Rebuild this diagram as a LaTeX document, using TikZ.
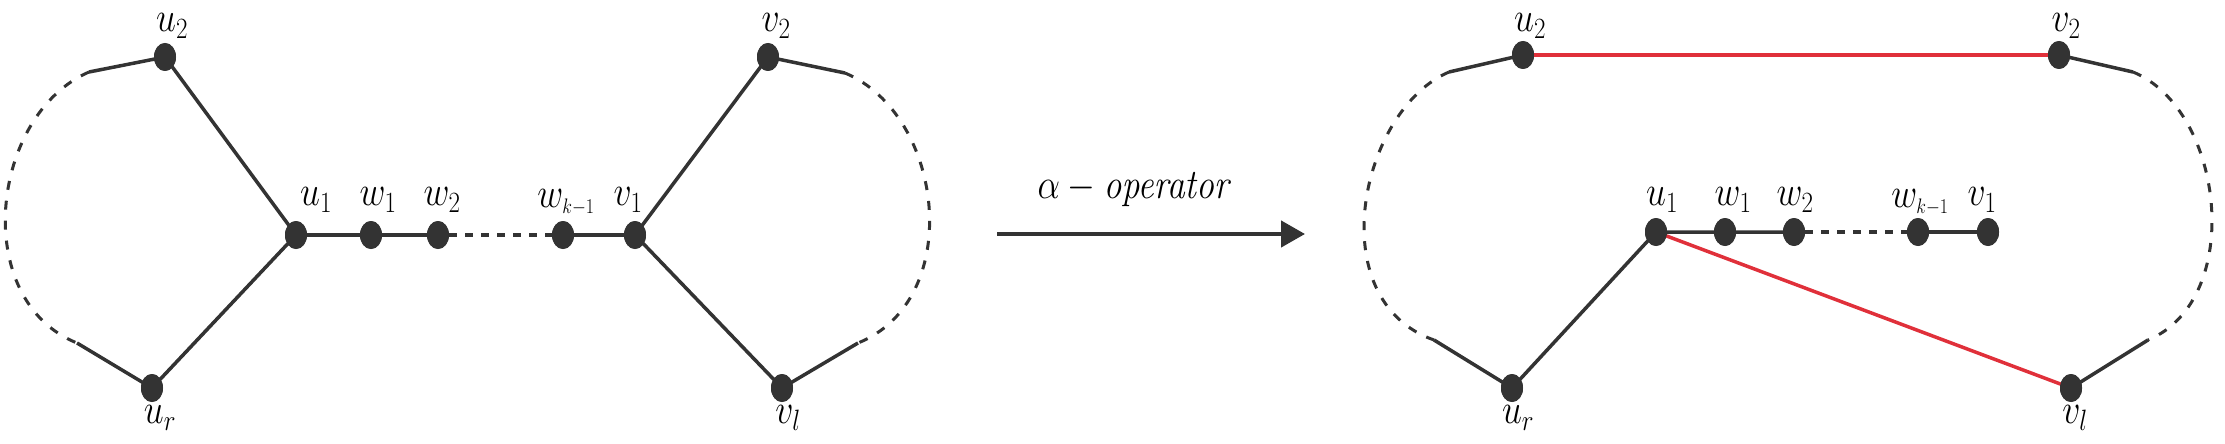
\documentclass[tikz,border=0pt]{standalone}
\usepackage{fix-cm}
\usetikzlibrary{arrows.meta,shapes.geometric}
\definecolor{dk}{HTML}{333333}
\definecolor{rd}{HTML}{E0303A}
\begin{document}
\begin{tikzpicture}[x=1pt,y=-1pt,
  vtx/.style={ellipse,fill=dk,inner sep=0pt,minimum width=22pt,minimum height=28pt},
  lab/.style={font=\fontsize{42}{50}\selectfont,text=black,inner sep=0pt,xscale=0.85},
  edge/.style={draw=dk,line width=3.5pt},
  redge/.style={draw=rd,line width=3.5pt},
  dsh/.style={draw=dk,line width=3pt,dash pattern=on 9pt off 11pt},
  dot/.style={draw=dk,line width=4pt,dash pattern=on 8pt off 8pt}]
\useasboundingbox (0,0) rectangle (2225,444);
% left graph
\node[vtx] (Lu2) at (165,57) {};
\node[vtx] (Lu1) at (296,235) {};
\node[vtx] (Lw1) at (371,235) {};
\node[vtx] (Lw2) at (438,235) {};
\node[vtx] (Lwk) at (563,235) {};
\node[vtx] (Lv1) at (635,235) {};
\node[vtx] (Lv2) at (768,57) {};
\node[vtx] (Lur) at (152,388) {};
\node[vtx] (Lvl) at (782,388) {};
\coordinate (La) at (89,72); \coordinate (Lb) at (77,343);
\coordinate (Lc) at (845,73); \coordinate (Ld) at (858,343);
\draw[edge] (Lu2.center) -- (Lu1.center) -- (Lur.center);
\draw[edge] (Lu1.center) -- (Lw1.center) -- (Lw2.center);
\draw[edge] (Lwk.center) -- (Lv1.center);
\draw[edge] (Lv2.center) -- (Lv1.center) -- (Lvl.center);
\draw[dot] (Lw2) -- (Lwk);
\draw[edge] (Lu2.center) -- (La);
\draw[edge] (Lur.center) -- (Lb);
\draw[edge] (Lv2.center) -- (Lc);
\draw[edge] (Lvl.center) -- (Ld);
\draw[dsh] (La) .. controls (-10,115) and (-30,300) .. (Lb);
\draw[dsh] (Lc) .. controls (945,115) and (965,300) .. (Ld);
\foreach \n in {Lu2,Lu1,Lw1,Lw2,Lwk,Lv1,Lv2,Lur,Lvl} \node[vtx] at (\n) {};
\node[lab] at (172,26) {$u_2$};
\node[lab] at (776,26) {$v_2$};
\node[lab] at (316,200) {$u_1$};
\node[lab] at (378,200) {$w_1$};
\node[lab] at (442,200) {$w_2$};
\node[lab] at (566,202) {$w_{\scriptscriptstyle k-1}$};
\node[lab] at (628,200) {$v_1$};
\node[lab] at (160,418) {$u_r$};
\node[lab] at (788,418) {$v_l$};
% arrow
\coordinate (A1) at (997,234); \coordinate (A2) at (1305,234);
\draw[draw=dk,line width=4.5pt,-{Triangle[length=24pt,width=26pt]}] (A1) -- (A2);
\node[lab] (op) at (1135,190) {$\alpha - \mathit{operator}$};
% right graph
\node[vtx] (Ru2) at (1523,55) {};
\node[vtx] (Rv2) at (2059,55) {};
\node[vtx] (Ru1) at (1656,232) {};
\node[vtx] (Rw1) at (1725,232) {};
\node[vtx] (Rw2) at (1794,232) {};
\node[vtx] (Rwk) at (1918,232) {};
\node[vtx] (Rv1) at (1988,232) {};
\node[vtx] (Rur) at (1512,388) {};
\node[vtx] (Rvl) at (2071,388) {};
\coordinate (Ra) at (1449,72); \coordinate (Rb) at (1434,340);
\coordinate (Rc) at (2133,72); \coordinate (Rd) at (2148,340);
\draw[redge] (Ru2.center) -- (Rv2.center);
\draw[redge] (Ru1.center) -- (Rvl.center);
\draw[edge] (Rur.center) -- (Ru1.center) -- (Rw1.center) -- (Rw2.center);
\draw[edge] (Rwk.center) -- (Rv1.center);
\draw[dot] (Rw2) -- (Rwk);
\draw[edge] (Ru2.center) -- (Ra);
\draw[edge] (Rur.center) -- (Rb);
\draw[edge] (Rv2.center) -- (Rc);
\draw[edge] (Rvl.center) -- (Rd);
\draw[dsh] (Ra) .. controls (1360,110) and (1320,300) .. (Rb);
\draw[dsh] (Rc) .. controls (2225,110) and (2245,300) .. (Rd);
\foreach \n in {Ru2,Rv2,Ru1,Rw1,Rw2,Rwk,Rv1,Rur,Rvl} \node[vtx] at (\n) {};
\node[lab] at (1530,26) {$u_2$};
\node[lab] at (2066,26) {$v_2$};
\node[lab] at (1662,200) {$u_1$};
\node[lab] at (1733,200) {$w_1$};
\node[lab] at (1795,200) {$w_2$};
\node[lab] at (1920,202) {$w_{\scriptscriptstyle k-1}$};
\node[lab] at (1982,200) {$v_1$};
\node[lab] at (1518,418) {$u_r$};
\node[lab] at (2075,418) {$v_l$};
\end{tikzpicture}
\end{document}
